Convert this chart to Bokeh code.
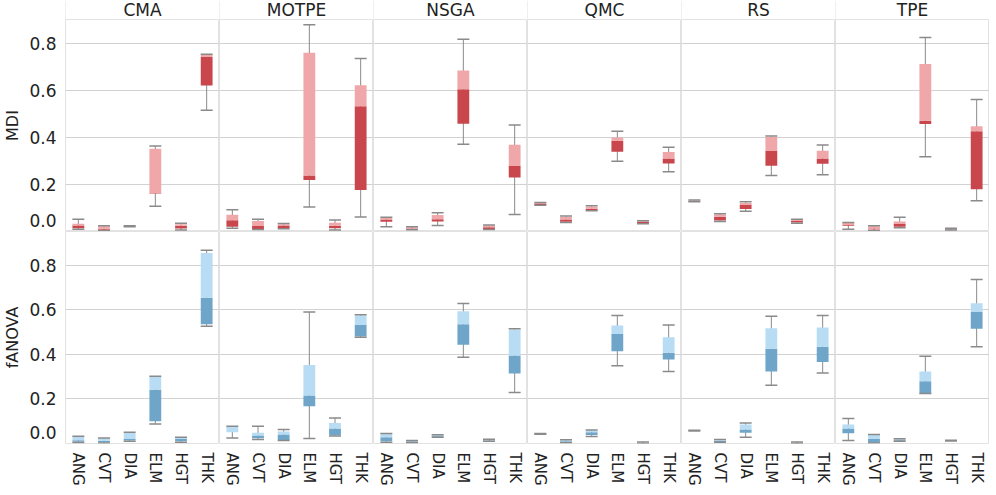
from bokeh.plotting import figure
from bokeh.layouts import gridplot
from bokeh.models import FactorRange, Range1d, FixedTicker, ColumnDataSource, Span
from bokeh.core.properties import value
from bokeh.embed import file_html
from bokeh.resources import INLINE

ALGS = ["CMA", "MOTPE", "NSGA", "QMC", "RS", "TPE"]
CATS = ["ANG", "CVT", "DIA", "ELM", "HGT", "THK"]
ROW_LABELS = ["MDI", "fANOVA"]
Y_TICKS = [0.0, 0.2, 0.4, 0.6, 0.8]
Y_TICK_LABELS = ["0.0", "0.2", "0.4", "0.6", "0.8"]

# MDI box statistics, 6 categories per algorithm (order of ALGS x CATS)
MDI_MIN = [
    0.010, 0.003, 0.020, 0.107, 0.006, 0.515,
    0.014, 0.008, 0.012, 0.104, 0.006, 0.062,
    0.020, 0.007, 0.025, 0.370, 0.008, 0.072,
    0.111, 0.038, 0.088, 0.298, 0.033, 0.254,
    0.126, 0.042, 0.086, 0.238, 0.035, 0.241,
    0.010, 0.003, 0.016, 0.317, 0.006, 0.131,
]
MDI_Q1 = [
    0.014, 0.007, 0.021, 0.160, 0.013, 0.620,
    0.020, 0.011, 0.015, 0.219, 0.014, 0.176,
    0.041, 0.009, 0.042, 0.457, 0.011, 0.229,
    0.113, 0.041, 0.090, 0.339, 0.035, 0.289,
    0.127, 0.047, 0.095, 0.279, 0.038, 0.288,
    0.024, 0.008, 0.020, 0.456, 0.008, 0.179,
]
MDI_MED = [
    0.026, 0.012, 0.022, 0.162, 0.024, 0.741,
    0.048, 0.023, 0.025, 0.238, 0.024, 0.532,
    0.051, 0.013, 0.052, 0.604, 0.018, 0.278,
    0.119, 0.051, 0.097, 0.385, 0.040, 0.310,
    0.129, 0.063, 0.113, 0.342, 0.045, 0.310,
    0.028, 0.013, 0.032, 0.470, 0.010, 0.426,
]
MDI_Q3 = [
    0.033, 0.022, 0.023, 0.351, 0.031, 0.750,
    0.071, 0.045, 0.031, 0.759, 0.037, 0.621,
    0.059, 0.018, 0.070, 0.683, 0.026, 0.368,
    0.122, 0.062, 0.105, 0.399, 0.044, 0.337,
    0.132, 0.072, 0.121, 0.401, 0.050, 0.343,
    0.036, 0.022, 0.042, 0.711, 0.013, 0.447,
]
MDI_MAX = [
    0.052, 0.024, 0.024, 0.363, 0.035, 0.752,
    0.092, 0.052, 0.034, 0.878, 0.049, 0.734,
    0.060, 0.020, 0.080, 0.816, 0.028, 0.452,
    0.123, 0.066, 0.109, 0.426, 0.046, 0.358,
    0.134, 0.075, 0.126, 0.405, 0.052, 0.367,
    0.038, 0.024, 0.061, 0.824, 0.014, 0.560,
]

# fANOVA box statistics
FANOVA_MIN = [
    0.004, 0.002, 0.010, 0.088, 0.006, 0.526,
    0.025, 0.018, 0.014, 0.022, 0.034, 0.477,
    0.006, 0.003, 0.028, 0.387, 0.010, 0.229,
    0.041, 0.003, 0.031, 0.349, 0.000, 0.323,
    0.056, 0.006, 0.028, 0.262, 0.000, 0.317,
    0.013, 0.002, 0.010, 0.225, 0.011, 0.434,
]
FANOVA_Q1 = [
    0.008, 0.005, 0.014, 0.100, 0.010, 0.535,
    0.050, 0.024, 0.016, 0.167, 0.037, 0.480,
    0.010, 0.005, 0.030, 0.444, 0.012, 0.314,
    0.042, 0.005, 0.038, 0.414, 0.001, 0.377,
    0.057, 0.007, 0.048, 0.323, 0.001, 0.366,
    0.046, 0.003, 0.012, 0.225, 0.012, 0.515,
]
FANOVA_MED = [
    0.015, 0.012, 0.020, 0.241, 0.020, 0.654,
    0.051, 0.036, 0.040, 0.216, 0.067, 0.532,
    0.028, 0.010, 0.034, 0.536, 0.015, 0.395,
    0.043, 0.010, 0.050, 0.492, 0.001, 0.407,
    0.058, 0.012, 0.063, 0.425, 0.002, 0.435,
    0.067, 0.020, 0.016, 0.279, 0.013, 0.590,
]
FANOVA_Q3 = [
    0.030, 0.023, 0.048, 0.300, 0.027, 0.855,
    0.075, 0.048, 0.054, 0.353, 0.092, 0.575,
    0.043, 0.013, 0.038, 0.594, 0.018, 0.511,
    0.044, 0.015, 0.058, 0.530, 0.002, 0.477,
    0.059, 0.017, 0.085, 0.518, 0.002, 0.521,
    0.085, 0.038, 0.020, 0.323, 0.014, 0.630,
]
FANOVA_MAX = [
    0.032, 0.025, 0.051, 0.302, 0.028, 0.868,
    0.077, 0.077, 0.063, 0.590, 0.115, 0.578,
    0.045, 0.014, 0.039, 0.629, 0.019, 0.515,
    0.045, 0.017, 0.061, 0.575, 0.007, 0.532,
    0.060, 0.018, 0.092, 0.571, 0.007, 0.575,
    0.112, 0.040, 0.021, 0.392, 0.015, 0.736,
]

FONT = "DejaVu Sans"
TEXT_COLOR = "#222222"
BORDER = "#e2e2e2"
GRID = "#d2d2d2"
WHISKER = "#8a8a8a"
ROW_COLORS = [("#c8464c", "#f0a7a9"), ("#6ea5c8", "#b7dcf3")]
ROW_DATA = [
    (MDI_MIN, MDI_Q1, MDI_MED, MDI_Q3, MDI_MAX),
    (FANOVA_MIN, FANOVA_Q1, FANOVA_MED, FANOVA_Q3, FANOVA_MAX),
]
ROW_RANGES = [Range1d(0, 0.9), Range1d(0, 0.952)]

LEFT = 54
FW = 154
HEAD_H = 19
PANEL_H = 212
BOTTOM = 36
FLUSH_PX = 11  # the lowest tick label is pushed up inside the panel (label flush)

header = []
for j, alg in enumerate(ALGS):
    h = figure(x_range=FactorRange(alg, range_padding=0), y_range=Range1d(0, 1),
               frame_width=FW, frame_height=HEAD_H,
               x_axis_location=None, y_axis_location=None,
               toolbar_location=None, output_backend="svg", title=None,
               min_border_left=LEFT if j == 0 else 0, min_border_right=0,
               min_border_top=0, min_border_bottom=0,
               outline_line_color=None)
    h.xgrid.visible = False
    h.ygrid.visible = False
    h.text(x=[alg], y=[0.5], text=[alg], text_font=value(FONT), text_font_size="17px",
           text_color=TEXT_COLOR, text_align="center", text_baseline="middle")
    h.add_layout(Span(location=0, dimension="height", line_color=BORDER, line_width=1))
    h.add_layout(Span(location=1, dimension="height", line_color=BORDER, line_width=1))
    header.append(h)

rows = [header]
for r in range(2):
    mins, q1s, meds, q3s, maxs = ROW_DATA[r]
    dark, light = ROW_COLORS[r]
    yr = ROW_RANGES[r]
    row = []
    for j, alg in enumerate(ALGS):
        sl = slice(j * 6, j * 6 + 6)
        src = ColumnDataSource(dict(cat=CATS, lo=mins[sl], q1=q1s[sl], med=meds[sl],
                                    q3=q3s[sl], hi=maxs[sl]))
        p = figure(x_range=FactorRange(*CATS, range_padding=0), y_range=yr,
                   frame_width=FW, frame_height=PANEL_H,
                   x_axis_location="below" if r == 1 else None,
                   y_axis_location="left" if j == 0 else None,
                   toolbar_location=None, output_backend="svg", title=None,
                   min_border_left=LEFT if j == 0 else 0, min_border_right=0,
                   min_border_top=0, min_border_bottom=BOTTOM if r == 1 else 0,
                   outline_line_color=BORDER)
        p.xgrid.visible = False
        p.ygrid.ticker = FixedTicker(ticks=Y_TICKS)
        p.ygrid.grid_line_color = GRID
        p.segment(x0="cat", y0="lo", x1="cat", y1="hi", source=src,
                  line_color=WHISKER, line_width=1)
        p.vbar(x="cat", bottom="q1", top="med", width=0.46, source=src,
               fill_color=dark, line_color=None)
        p.vbar(x="cat", bottom="med", top="q3", width=0.46, source=src,
               fill_color=light, line_color=None)
        p.scatter(x="cat", y="lo", marker="dash", size=12, source=src,
                  line_color=WHISKER, line_width=1.5)
        p.scatter(x="cat", y="hi", marker="dash", size=12, source=src,
                  line_color=WHISKER, line_width=1.5)
        if j == 0:
            flush_pos = round(Y_TICKS[0] + FLUSH_PX * (yr.end - yr.start) / PANEL_H, 3)
            tick_pos = [flush_pos] + Y_TICKS[1:]
            ax = p.yaxis[0]
            ax.ticker = FixedTicker(ticks=tick_pos)
            ax.major_label_overrides = {t: s for t, s in zip(tick_pos, Y_TICK_LABELS)}
            ax.axis_line_color = None
            ax.major_tick_line_color = None
            ax.minor_tick_line_color = None
            ax.major_label_standoff = 3
            ax.major_label_text_font = FONT
            ax.major_label_text_font_size = "17px"
            ax.major_label_text_color = TEXT_COLOR
            ax.axis_label = ROW_LABELS[r]
            ax.axis_label_text_font = FONT
            ax.axis_label_text_font_size = "16px"
            ax.axis_label_text_font_style = "normal"
            ax.axis_label_text_color = TEXT_COLOR
            ax.axis_label_standoff = 4
        if r == 1:
            xa = p.xaxis[0]
            xa.axis_line_color = None
            xa.major_tick_line_color = None
            xa.minor_tick_line_color = None
            xa.major_label_orientation = "vertical"
            xa.major_label_standoff = 3
            xa.major_label_text_font = FONT
            xa.major_label_text_font_size = "15px"
            xa.major_label_text_color = TEXT_COLOR
        row.append(p)
    rows.append(row)

grid = gridplot(rows, toolbar_location=None)
open("out.html", "w").write(file_html(grid, INLINE))
